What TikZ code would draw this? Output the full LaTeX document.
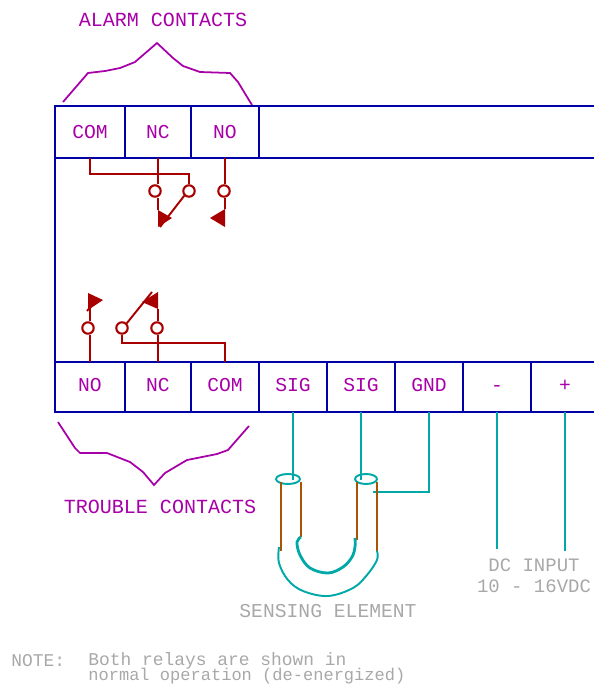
\documentclass[tikz,border=0pt]{standalone}
\usepackage{fontspec}
\setmainfont{Liberation Mono}
\usetikzlibrary{calc,shapes.geometric}
\definecolor{wireblue}{HTML}{0000A8}
\definecolor{labelpurple}{HTML}{A800A8}
\definecolor{relayred}{HTML}{A80000}
\definecolor{sensorteal}{HTML}{00A8A8}
\definecolor{tubebrown}{HTML}{A85400}
\definecolor{notegray}{HTML}{A8A8A8}
\tikzset{
  terminal/.style={draw=wireblue,line width=1.2pt,inner sep=0pt,outer sep=0pt,text=labelpurple,text height=7.4pt},
  relay/.style={draw=relayred,line width=1.1pt},
  contact/.style={circle,draw=relayred,line width=1.2pt,inner sep=0pt,minimum size=6.5pt},
  sensor/.style={draw=sensorteal,line width=1.1pt},
  tube/.style={draw=tubebrown,line width=1.1pt},
  bracket/.style={draw=labelpurple,line width=1pt},
  caption/.style={inner sep=0pt,font=\fontsize{11.2}{13}\selectfont},
  note/.style={inner sep=0pt,text=notegray,anchor=west,font=\fontsize{10.2}{12}\selectfont}
}
\newcommand{\arrowhead}[3]{\fill[relayred] (#1) -- (#2) -- (#3) -- cycle;}
\begin{document}
\begin{tikzpicture}[x=0.02cm,y=-0.02cm,font=\fontsize{11.2}{13}\selectfont]
\clip (0,0) rectangle (594,687);
% terminal strips
\foreach \name/\txt/\xa/\xb in {tcom/COM/55/125,tnc/NC/125/191,tno/NO/191/259,tend//259/610}
  \node[terminal,text depth=0pt,minimum height=1.04cm,minimum width={(\xb-\xa)*0.02cm}] (\name) at ({(\xa+\xb)/2},132) {\txt};
\foreach \name/\txt/\xa/\xb in {bno/NO/55/125,bnc/NC/125/191,bcom/COM/191/259,bsiga/SIG/259/327,bsigb/SIG/327/395,bgnd/GND/395/463,bneg/-/463/531,bpos/+/531/599}
  \node[terminal,text depth=2.3pt,minimum height=1.0cm,minimum width={(\xb-\xa)*0.02cm}] (\name) at ({(\xa+\xb)/2},387) {\txt};
\draw[wireblue,line width=1.2pt] (tcom.south west) -- (bno.north west);
% alarm relay
\node[contact] (anc) at (155,191) {};
\node[contact] (acom) at (189,191) {};
\node[contact] (ano) at (224,191) {};
\coordinate (abend) at (189,174);
\coordinate (aarm) at (160,227);
\coordinate (anctip) at (158,210);
\coordinate (anotip) at (225,209);
\draw[relay] (tcom.south) |- (abend) -- (acom.north);
\draw[relay] (tnc.south) -- (anc.north -| tnc.south);
\draw[relay] (anc.south -| tnc.south) -- (anctip);
\draw[relay] (tno.south) -- (ano.north -| tno.south);
\draw[relay] (ano.south -| tno.south) -- (anotip);
\draw[relay] (acom.south west) -- (aarm);
\arrowhead{anctip}{158,227}{172,218}
\arrowhead{anotip}{225,227}{210,218}
% trouble relay
\node[contact] (tbno) at (88,328) {};
\node[contact] (tbcom) at (122,328) {};
\node[contact] (tbnc) at (157,328) {};
\coordinate (tbend) at (122,343);
\coordinate (tbarm) at (152,292);
\coordinate (tbnotip) at (90,308);
\coordinate (tbnctip) at (158,309);
\draw[relay] (bno.north) -- (tbno.south -| bno.north);
\draw[relay] (tbno.north -| bno.north) -- (tbnotip);
\draw[relay] (bnc.north) -- (tbnc.south -| bnc.north);
\draw[relay] (tbnc.north -| bnc.north) -- (tbnctip);
\draw[relay] (bcom.north) |- (tbend) -- (tbcom.south);
\draw[relay] (tbcom.north east) -- (tbarm);
\draw[relay] (87,311) -- (93,304);
\arrowhead{88,293}{88,310}{103,300}
\arrowhead{158,292}{tbnctip}{142,302}
% contact groups
\draw[bracket] (63,102) -- (88,73) -- (105,71) -- (120,68) -- (135,62) -- (157,43) -- (173,58) -- (183,66) -- (200,72) -- (230,73) -- (238,82) -- (252,105);
\draw[bracket] (58,422) -- (75,448) -- (80,453) -- (107,453) -- (130,462) -- (143,472) -- (154,485) -- (165,473) -- (187,460) -- (217,454) -- (228,450) -- (249,426);
\node[caption,font=\fontsize{11.4}{13}\selectfont,text=labelpurple] (alarmtxt) at (163,20) {ALARM CONTACTS};
\node[caption,font=\fontsize{11.4}{13}\selectfont,text=labelpurple] (troubletxt) at (160,507) {TROUBLE CONTACTS};
% sensing element
\node[ellipse,sensor,minimum width=0.48cm,minimum height=0.2cm,inner sep=0pt] (capa) at (288,479) {};
\node[ellipse,sensor,minimum width=0.44cm,minimum height=0.2cm,inner sep=0pt] (capb) at (366,479) {};
\coordinate (gndtap) at (373,492);
\coordinate (siga) at (293,480);
\coordinate (sigb) at (361,480);
\draw[sensor] (bsiga.south) -- (siga);
\draw[sensor] (bsigb.south) -- (sigb);
\draw[sensor] (bgnd.south) |- (gndtap);
\draw[tube] (281,482) -- (281,551);
\draw[tube] (301,482) -- (301,537);
\draw[tube] (357,482) -- (357,540);
\draw[tube] (377,482) -- (377,551);
\draw[sensor] plot[smooth,tension=0.6] coordinates {(279,547) (279,563) (288,580) (303,591) (328,596) (353,588) (367,575) (377,560) (377,551)};
\draw[sensor,line width=1.6pt] plot[smooth,tension=0.6] coordinates {(301,537) (297,542) (300,555) (310,568) (328,573) (343,567) (352,557) (355,547) (355,538)};
\node[caption,text=notegray] (sensetxt) at (328,611) {SENSING ELEMENT};
% dc input
\node[caption,font=\fontsize{10.8}{13}\selectfont,text=notegray] (dctxt) at (534,565) {DC INPUT};
\node[caption,font=\fontsize{10.8}{13}\selectfont,text=notegray] (volttxt) at (534,586) {10 - 16VDC};
\coordinate (negend) at (497,549);
\coordinate (posend) at (565,551);
\draw[sensor] (bneg.south) -- (negend);
\draw[sensor] (bpos.south) -- (posend);
% note
\node[note] (notehead) at (11,661) {NOTE:};
\node[note] (noteone) at (88,661) {Both relays are shown in};
\node[note,font=\fontsize{9.7}{12}\selectfont] (notetwo) at (88,676) {normal operation (de-energized)};
\end{tikzpicture}
\end{document}
